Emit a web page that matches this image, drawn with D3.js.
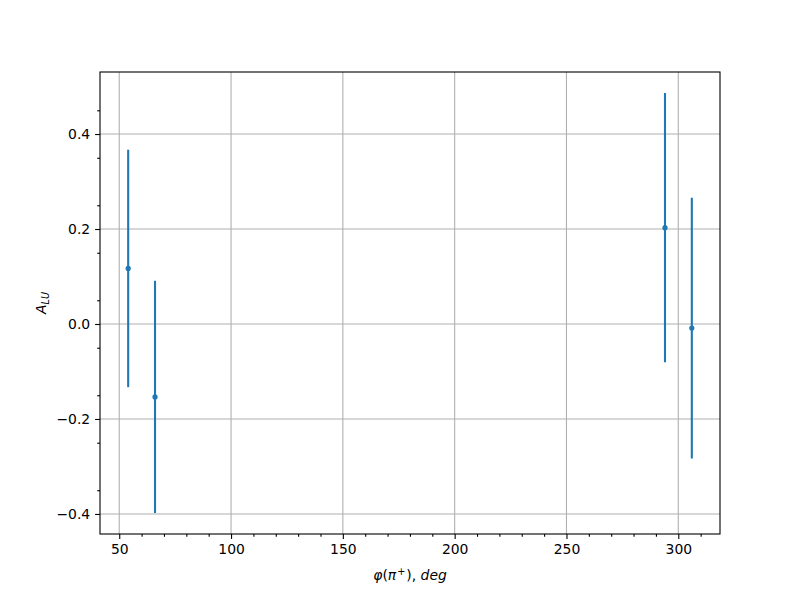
<!DOCTYPE html>
<html>
<head>
<meta charset="utf-8">
<script src="https://cdn.jsdelivr.net/npm/d3@7"></script>
<style>
  body { margin: 0; background: #fff; }
  svg { display: block; font-family: "DejaVu Sans", sans-serif; }
</style>
</head>
<body>
<svg id="chart" width="800" height="600"></svg>
<script>
// Data
const phi = [54.0, 66.0, 294.05, 306.05];
const alu = [0.117, -0.1535, 0.2028, -0.0086];
const err = [0.250, 0.2445, 0.2836, 0.2745];
const xTicks = [50, 100, 150, 200, 250, 300];
const yTicks = [-0.4, -0.2, 0.0, 0.2, 0.4];

const W = 800, H = 600;
const m = { left: 100, right: 80, top: 72, bottom: 66 };
const iw = W - m.left - m.right, ih = H - m.top - m.bottom;

const svg = d3.select("#chart");
const g = svg.append("g").attr("transform", `translate(${m.left},${m.top})`);

function padExtent(lo, hi) {
  const r = hi - lo;
  return [lo - 0.05 * r, hi + 0.05 * r];
}
const xExt = padExtent(d3.min(phi), d3.max(phi));
const yExt = padExtent(d3.min(alu.map((v, i) => v - err[i])), d3.max(alu.map((v, i) => v + err[i])));

const x = d3.scaleLinear().domain(xExt).range([0, iw]);
const y = d3.scaleLinear().domain(yExt).range([ih, 0]);

const fmtY = v => d3.format(".1f")(v).replace("-", "\u2212");

// grid
g.append("g").selectAll("line").data(xTicks).join("line")
  .attr("x1", d => x(d)).attr("x2", d => x(d)).attr("y1", 0).attr("y2", ih)
  .attr("stroke", "#b0b0b0").attr("stroke-width", 1.1);
g.append("g").selectAll("line").data(yTicks).join("line")
  .attr("y1", d => y(d)).attr("y2", d => y(d)).attr("x1", 0).attr("x2", iw)
  .attr("stroke", "#b0b0b0").attr("stroke-width", 1.1);

// axes
const xMinor = d3.range(50, 320, 10).filter(v => v % 50 !== 0 && v >= xExt[0] && v <= xExt[1]);
const yMinor = d3.range(-0.45, 0.55, 0.05).map(v => Math.round(v * 100) / 100)
  .filter(v => Math.abs(Math.round(v * 10) - v * 10) > 1e-6 && v >= yExt[0] && v <= yExt[1]);

const xAxis = g.append("g").attr("transform", `translate(0,${ih})`)
  .call(d3.axisBottom(x).tickValues(xTicks).tickFormat(d3.format("d")).tickSize(4.9).tickPadding(4.9));
const xAxisMinor = g.append("g").attr("transform", `translate(0,${ih})`)
  .call(d3.axisBottom(x).tickValues(xMinor).tickFormat("").tickSize(2.8));
const yAxis = g.append("g")
  .call(d3.axisLeft(y).tickValues(yTicks).tickFormat(fmtY).tickSize(4.9).tickPadding(4.9));
const yAxisMinor = g.append("g")
  .call(d3.axisLeft(y).tickValues(yMinor).tickFormat("").tickSize(2.8));

[xAxis, xAxisMinor, yAxis, yAxisMinor].forEach(a => {
  a.select(".domain").remove();
  a.selectAll(".tick line").attr("stroke", "#000").attr("stroke-width", 1.1);
  a.selectAll(".tick text").attr("font-size", 13.9).attr("fill", "#000")
    .attr("font-family", "DejaVu Sans, sans-serif");
});
yAxis.selectAll(".tick text").attr("dy", "0.35em");

// error bars
const pts = phi.map((p, i) => ({ p, v: alu[i], e: err[i] }));
g.append("g").selectAll("line").data(pts).join("line")
  .attr("x1", d => x(d.p)).attr("x2", d => x(d.p))
  .attr("y1", d => y(d.v - d.e)).attr("y2", d => y(d.v + d.e))
  .attr("stroke", "#1f77b4").attr("stroke-width", 2.1);
g.append("g").selectAll("circle").data(pts).join("circle")
  .attr("cx", d => x(d.p)).attr("cy", d => y(d.v)).attr("r", 2.6)
  .attr("fill", "#1f77b4");

// spines
g.append("rect").attr("x", 0).attr("y", 0).attr("width", iw).attr("height", ih)
  .attr("fill", "none").attr("stroke", "#000").attr("stroke-width", 1.1);

// labels
const xl = svg.append("text").attr("x", m.left + iw / 2).attr("y", 580)
  .attr("text-anchor", "middle").attr("font-size", 13.9).attr("fill", "#000");
xl.append("tspan").attr("font-style", "italic").text("φ");
xl.append("tspan").text("(");
xl.append("tspan").attr("font-style", "italic").text("π");
xl.append("tspan").attr("font-size", 9.7).attr("dy", -5).attr("dx", 1).text("+");
xl.append("tspan").attr("dy", 5).attr("dx", 1).text("), ");
xl.append("tspan").attr("font-style", "italic").text("deg");

const yl = svg.append("text")
  .attr("transform", `translate(46,${m.top + ih / 2}) rotate(-90)`)
  .attr("text-anchor", "middle").attr("font-size", 13.9).attr("fill", "#000");
yl.append("tspan").attr("font-style", "italic").text("A");
yl.append("tspan").attr("font-style", "italic").attr("font-size", 9.7).attr("dy", 3).text("LU");
</script>
</body>
</html>
